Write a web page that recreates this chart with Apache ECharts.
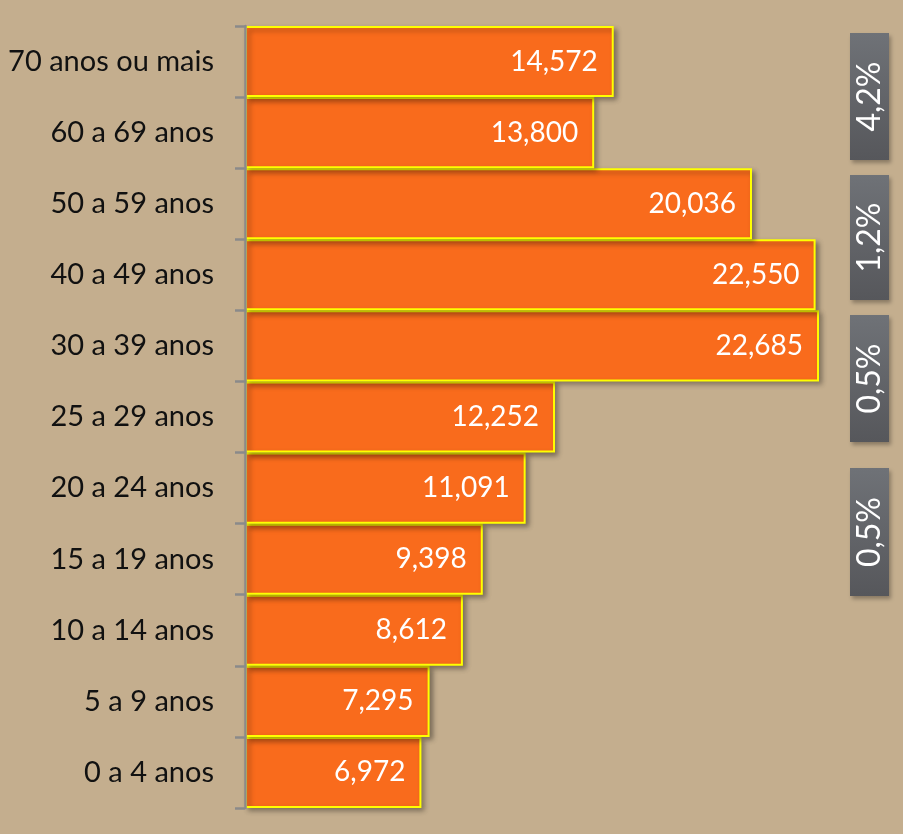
<!DOCTYPE html>
<html>
<head>
<meta charset="UTF-8">
<title>Faixa etária</title>
<script src="https://cdn.jsdelivr.net/npm/echarts@6/dist/echarts.min.js"></script>
<style>
html, body { margin: 0; padding: 0; background: #c4ae8e; }
#chart { width: 903px; height: 834px; }
</style>
</head>
<body>
<div id="chart"></div>
<script>
// categorias de baixo para cima
var categories = ['0 a 4 anos', '5 a 9 anos', '10 a 14 anos', '15 a 19 anos', '20 a 24 anos',
    '25 a 29 anos', '30 a 39 anos', '40 a 49 anos', '50 a 59 anos', '60 a 69 anos', '70 anos ou mais'];
var values = [6972, 7295, 8612, 9398, 11091, 12252, 22685, 22550, 20036, 13800, 14572];

// caixas cinzas à direita
var boxLabels = ['4,2%', '1,2%', '0,5%', '0,5%'];
var boxTops = [33, 175, 315, 468];
var boxHeights = [127, 125, 127, 128];

var chart = echarts.init(document.getElementById('chart'));

var boxes = [];
for (var i = 0; i < boxLabels.length; i++) {
    boxes.push({
        type: 'rect',
        left: 850, top: boxTops[i],
        shape: { width: 39, height: boxHeights[i] },
        style: {
            fill: new echarts.graphic.LinearGradient(0, 0, 0, 1, [
                { offset: 0, color: '#6f7277' },
                { offset: 1, color: '#56575b' }
            ]),
            shadowBlur: 4, shadowOffsetX: 2, shadowOffsetY: 3, shadowColor: 'rgba(0,0,0,0.3)'
        }
    });
    boxes.push({
        type: 'text',
        x: 870, y: boxTops[i] + boxHeights[i] / 2,
        rotation: Math.PI / 2,
        style: {
            text: boxLabels[i],
            fill: '#fff',
            font: '32px Lato, sans-serif',
            align: 'center',
            verticalAlign: 'middle'
        }
    });
}

chart.setOption({
    backgroundColor: '#c4ae8e',
    animation: false,
    grid: { left: 245, top: 26, bottom: 26, width: 632.6 },
    xAxis: {
        type: 'value', min: 0, max: 25000,
        show: false
    },
    yAxis: {
        type: 'category',
        data: categories,
        z: 5,
        axisLine: { show: true, onZero: false, lineStyle: { color: '#8a8a8a', width: 2.5 } },
        axisTick: { show: true, length: 10, lineStyle: { color: '#8a8a8a', width: 2.5 } },
        axisLabel: {
            color: '#111', fontSize: 29, margin: 31,
            fontFamily: 'Lato, sans-serif'
        }
    },
    series: [{
        type: 'bar',
        data: values,
        barCategoryGap: 0,
        itemStyle: {
            color: '#f96b1c',
            borderColor: '#ffff00',
            borderWidth: 2,
            shadowBlur: 5, shadowOffsetX: 3, shadowOffsetY: 3, shadowColor: 'rgba(0,0,0,0.35)'
        },
        label: {
            show: true,
            position: 'insideRight',
            distance: 16,
            color: '#fff',
            fontSize: 28,
            fontFamily: 'Lato, sans-serif',
            formatter: function (p) { return p.value.toLocaleString('en-US'); }
        }
    }],
    graphic: boxes
});
</script>
</body>
</html>
